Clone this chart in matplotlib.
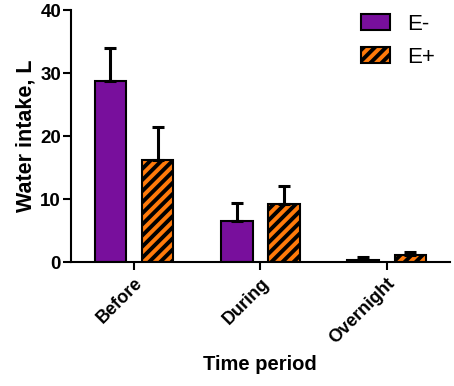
import matplotlib
matplotlib.use('Agg')
import matplotlib.pyplot as plt
import numpy as np

# data
periods = ['Before', 'During', 'Overnight']
e_minus = [28.8, 6.5, 0.3]
e_minus_err = [5.2, 2.9, 0.5]
e_plus = [16.2, 9.2, 1.1]
e_plus_err = [5.2, 2.8, 0.5]

plt.rcParams['font.family'] = ['Liberation Sans', 'DejaVu Sans']
plt.rcParams['hatch.linewidth'] = 2.8
plt.rcParams['hatch.color'] = 'black'

fig = plt.figure(figsize=(4.54, 3.86), dpi=100)
ax = fig.add_axes([0.156, 0.321, 0.835, 0.653])

x = np.arange(len(periods))
w = 0.25
off = 0.187
lw = 1.5

ax.bar(x - off, e_minus, w, color='#780f9c', edgecolor='black', linewidth=lw,
       yerr=[np.zeros(3), e_minus_err],
       error_kw=dict(ecolor='black', elinewidth=2.2, capsize=4.5, capthick=2.2),
       label='E-', zorder=2)
ax.bar(x + off, e_plus, w, color='#ff7a0a', edgecolor='black', linewidth=lw,
       hatch='///', yerr=[np.zeros(3), e_plus_err],
       error_kw=dict(ecolor='black', elinewidth=2.2, capsize=4.5, capthick=2.2),
       label='E+', zorder=2)

ax.set_xlim(-0.5, 2.5)
ax.set_ylim(0, 40)
ax.set_yticks([0, 10, 20, 30, 40])
ax.set_xticks(x)
ax.set_xticklabels(periods, rotation=45, ha='right', rotation_mode='anchor',
                   fontsize=13, fontweight='bold')
for lab in ax.get_yticklabels():
    lab.set_fontsize(13.5)
    lab.set_fontweight('bold')

for s in ['top', 'right']:
    ax.spines[s].set_visible(False)
for s in ['left', 'bottom']:
    ax.spines[s].set_linewidth(1.5)
ax.tick_params(width=1.5, length=5.5)
ax.tick_params(axis='y', pad=1.5)

ax.set_ylabel('Water intake, L', fontsize=15.5, fontweight='bold', labelpad=3)
ax.set_xlabel('Time period', fontsize=14.5, fontweight='bold', labelpad=6)

ax.legend(loc='upper right', frameon=False, fontsize=16, handlelength=1.3,
          handleheight=0.75, handletextpad=0.8, borderaxespad=0.0,
          labelspacing=0.55, bbox_to_anchor=(0.985, 1.02))

plt.savefig('out.png', dpi=100)
plt.close()
